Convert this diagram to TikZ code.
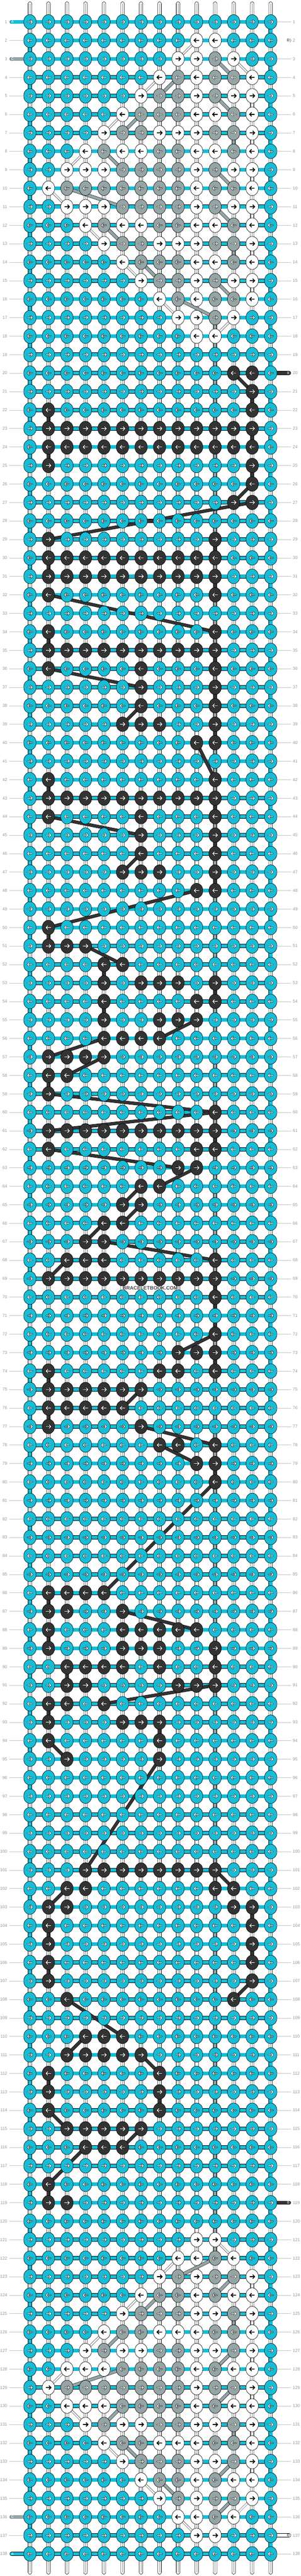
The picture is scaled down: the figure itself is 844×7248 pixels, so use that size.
\documentclass[tikz,border=0pt]{standalone}
\usepackage{fontspec}
\setmainfont{Liberation Sans}

\definecolor{knotA}{RGB}{23,189,214}
\definecolor{knotB}{RGB}{51,51,51}
\definecolor{knotC}{RGB}{149,165,166}
\definecolor{knotD}{RGB}{255,255,255}
\definecolor{numgray}{RGB}{150,150,150}
\definecolor{linegray}{RGB}{195,195,195}

\tikzset{
  knot/.style={draw, line width=0.9pt},
  warp/.style={draw, line width=0.8pt, fill=white, rounded corners=5pt},
  warpline/.style={draw=numgray, line width=0.7pt},
  weft/.style={draw, line width=0.8pt, double=knotA, double distance=9.4pt},
  strB/.style={draw, line width=0.8pt, double=knotB, double distance=7.6pt},
  strC/.style={draw, line width=0.8pt, double=knotC, double distance=7.6pt},
  strD/.style={draw, line width=0.7pt, double=knotD, double distance=4.4pt},
  strDv/.style={draw, line width=0.8pt, double=knotD, double distance=8.4pt},
  tabA/.style={weft, line cap=round},
  tabB/.style={weft, double=knotB, line cap=round},
  tabC/.style={weft, double=knotC, line cap=round},
  tabD/.style={weft, double=knotD, line cap=round},
  rownum/.style={font=\fontsize{12}{12}\selectfont, text=numgray, inner sep=0pt},
  tabtext/.style={font=\fontsize{10}{10}\selectfont, inner sep=0pt},
  numline/.style={draw=linegray, line width=0.8pt},
  arrrim/.style={line width=3.4pt, line cap=round, line join=round},
  arrcore/.style={white, line width=1.7pt, line cap=round, line join=round},
  arrdark/.style={line width=2.4pt}
}

%knot colours, A everywhere else
\newcommand\setknots[3]{\foreach \c in {#3}{\expandafter\xdef\csname kc@#1@\c\endcsname{#2}}}
\newcommand\mrow[4]{%
  \setknots{\the\numexpr#1+#2\relax}{D}{#3}%
  \if\relax\detokenize{#4}\relax\else\setknots{\the\numexpr#1+#2\relax}{C}{#4}\fi}
\newcommand\motif[1]{%
  \mrow{#1}{2}{10,11}{}%
  \mrow{#1}{3}{9,10,12}{11}%
  \mrow{#1}{4}{8,10,13}{9,11,12}%
  \mrow{#1}{5}{7,10,12,13}{8,9,11}%
  \mrow{#1}{6}{6,10,11,13}{7,8,9,12}%
  \mrow{#1}{7}{5,8,9,10,13}{6,7,11,12}%
  \mrow{#1}{8}{4,6,7,10,11,13}{5,8,9,12}%
  \mrow{#1}{9}{3,4,5,10,12,13}{6,7,8,9,11}%
  \mrow{#1}{10}{2,10,13}{3,4,5,6,7,8,9,11,12}%
  \mrow{#1}{11}{3,4,5,10,12,13}{6,7,8,9,11}%
  \mrow{#1}{12}{4,6,7,10,11,13}{5,8,9,12}%
  \mrow{#1}{13}{5,8,9,10,13}{6,7,11,12}%
  \mrow{#1}{14}{6,10,11,13}{7,8,9,12}%
  \mrow{#1}{15}{7,10,12,13}{8,9,11}%
  \mrow{#1}{16}{8,10,13}{9,11,12}%
  \mrow{#1}{17}{9,10,12}{11}%
  \mrow{#1}{18}{10,11}{}}
\motif{0}\motif{119}

\setknots{20}{B}{12,13}\setknots{21}{B}{13}\setknots{22}{B}{2,13}
\setknots{23}{B}{2,...,13}\setknots{24}{B}{2,...,13}\setknots{25}{B}{2,13}
\setknots{26}{B}{13}\setknots{27}{B}{12,13}
\setknots{29}{B}{2,11}\setknots{30}{B}{2,...,11}\setknots{31}{B}{2,...,11}
\setknots{32}{B}{2,11}\setknots{34}{B}{2,11}\setknots{35}{B}{2,...,11}
\setknots{36}{B}{2,7,11}\setknots{37}{B}{7,11}\setknots{38}{B}{7,11}
\setknots{39}{B}{6,7,8,11}\setknots{40}{B}{10,11}
\setknots{42}{B}{2,11}\setknots{43}{B}{2,...,11}\setknots{44}{B}{2,7,11}
\setknots{45}{B}{7,11}\setknots{46}{B}{7,11}\setknots{47}{B}{6,7,8,11}
\setknots{48}{B}{10,11}
\setknots{50}{B}{2}\setknots{51}{B}{2,3,4}\setknots{52}{B}{5,6}
\setknots{53}{B}{5,7,8,9,11}\setknots{54}{B}{5,10,11}\setknots{55}{B}{5,8,9,10}
\setknots{56}{B}{5,6,7,8}\setknots{57}{B}{2,3,4,5}\setknots{58}{B}{2,3}
\setknots{59}{B}{2}\setknots{60}{B}{11}\setknots{61}{B}{2,...,11}
\setknots{62}{B}{2,10,11}\setknots{63}{B}{9,10}\setknots{64}{B}{7,8}
\setknots{65}{B}{6,7}\setknots{66}{B}{5,6}\setknots{67}{B}{4,5}
\setknots{68}{B}{3,4,5,11}\setknots{69}{B}{2,...,11}\setknots{70}{B}{11}
\setknots{72}{B}{11}\setknots{73}{B}{9,10,11}\setknots{74}{B}{2,8,9,11}
\setknots{75}{B}{2,...,7}\setknots{76}{B}{2,...,6}\setknots{77}{B}{2,7}
\setknots{78}{B}{8,9,11}\setknots{79}{B}{10,11}\setknots{80}{B}{11}
\setknots{86}{B}{2,3,4,5}\setknots{87}{B}{2,3,6}\setknots{88}{B}{2,6,7,8,9,10}
\setknots{89}{B}{2,6,7,8,11}\setknots{90}{B}{3,4,5,6,8,11}\setknots{91}{B}{3,4,9,10,11}
\setknots{92}{B}{2,3,5}\setknots{93}{B}{2,6,7,8}\setknots{94}{B}{2,8}
\setknots{95}{B}{3,8}
\setknots{101}{B}{4,...,11}\setknots{102}{B}{3,4,11,12}\setknots{103}{B}{2,3,12,13}
\setknots{104}{B}{2,13}\setknots{105}{B}{2,13}\setknots{106}{B}{2,13}
\setknots{107}{B}{2,13}\setknots{108}{B}{3,12}
\setknots{110}{B}{4,5,6}\setknots{111}{B}{3,...,7}\setknots{112}{B}{2,8}
\setknots{113}{B}{2,8}\setknots{114}{B}{2,8}\setknots{115}{B}{3,...,7}
\setknots{116}{B}{4,5,6}\setknots{118}{B}{2}\setknots{119}{B}{2,3}

%append to a comma list
\newcommand\addto[2]{\expandafter\ifx\csname#1\endcsname\empty
  \expandafter\xdef\csname#1\endcsname{#2}\else
  \expandafter\xdef\csname#1\endcsname{\csname#1\endcsname,#2}\fi}

%rows with a tab instead of a number line
\expandafter\def\csname tabL@1\endcsname{}\expandafter\def\csname tabL@3\endcsname{}
\expandafter\def\csname tabL@136\endcsname{}\expandafter\def\csname tabL@138\endcsname{}
\expandafter\def\csname tabR@2\endcsname{}\expandafter\def\csname tabR@20\endcsname{}
\expandafter\def\csname tabR@119\endcsname{}\expandafter\def\csname tabR@137\endcsname{}

\begin{document}
\begin{tikzpicture}[x=1pt,y=-1pt]
\useasboundingbox(0,0)rectangle(844,7248);

%knot positions
\foreach \r in {1,...,138}{
  \foreach \c in {1,...,14}{\coordinate(k\r-\c)at(32+52*\c,9.7+52*\r);}
}

%warp pairs
\foreach \c in {1,...,14}{
  \draw[warp](27+52*\c,5)rectangle(37+52*\c,7243);
  \draw[warpline](32+52*\c,10)--(32+52*\c,7238);
}

%working string A
\foreach \r in {1,...,138}{\draw[weft](k\r-1)--(k\r-14);}
\foreach \r in {1,...,137}{
  \pgfmathtruncatemacro\rn{\r+1}
  \ifodd\r\draw[weft](k\r-14)--(k\rn-14);\else\draw[weft](k\r-1)--(k\rn-1);\fi
}

%tabs
\coordinate(endA1)at([xshift=-51.5pt]k1-1);
\coordinate(endA138)at([xshift=-51.5pt]k138-1);
\coordinate(endC3)at([xshift=-51.5pt]k3-1);
\coordinate(endC136)at([xshift=-51.5pt]k136-1);
\coordinate(endD2)at([xshift=51.5pt]k2-14);
\coordinate(endD137)at([xshift=51.5pt]k137-14);
\coordinate(endB20)at([xshift=51.5pt]k20-14);
\coordinate(endB119)at([xshift=51.5pt]k119-14);
\draw[tabA](endA1)--(k1-1);
\draw[tabA](endA138)--(k138-1);
\draw[tabC](endC3)--(k3-1);
\draw[tabC](endC136)--(k136-1);
\draw[tabD](endD2)--(k2-14);
\draw[tabD](endD137)--(k137-14);
\draw[tabB](endB20)--(k20-14);
\draw[tabB](endB119)--(k119-14);

%carried strings C
\foreach \a/\b/\p/\q in {3/11/4/12,4/9/5/8,5/11/6/12,6/7/7/6,7/12/8/12,8/5/9/6,
  9/11/10/12,10/3/11/6,11/11/12/12,12/5/13/6,13/12/14/12,14/7/15/8,15/11/16/12,
  16/9/17/11,17/11/122/11,122/11/123/9,123/12/124/11,124/8/125/7,125/12/126/12,
  126/6/127/5,127/12/128/11,128/6/129/3,129/12/130/11,130/6/131/5,131/12/132/12,
  132/6/133/7,133/12/134/11,134/8/135/9,135/12/136/11}
  {\draw[strC](k\a-\b)--(k\p-\q);}
%carried strings D
\foreach \a/\b/\p/\q in {2/10/3/9,3/12/4/13,4/8/5/7,6/6/7/5,8/4/9/3,10/2/11/3,
  12/4/13/5,14/6/15/7,16/8/17/9,17/12/18/11,121/11/122/12,122/9/123/8,124/7/125/6,
  126/5/127/4,128/3/129/2,130/3/131/4,132/5/133/6,134/7/135/8,135/13/136/12,
  136/9/137/10}
  {\draw[strD](k\a-\b)--(k\p-\q);}
\foreach \a/\b/\p/\q in {5/13/6/13,7/13/8/13,9/13/10/13,11/13/12/13,13/13/14/13,
  15/13/16/13,18/10/121/10,123/13/124/13,125/13/126/13,127/13/128/13,
  129/13/130/13,131/13/132/13,133/13/134/13}
  {\draw[strDv](k\a-\b)--(k\p-\q);}
%carried strings B
\foreach \a/\b/\p/\q in {20/12/21/13,21/13/22/13,22/2/23/2,23/13/24/13,24/2/25/2,
  25/13/26/13,26/13/27/12,27/13/29/2,29/11/30/11,30/2/31/2,31/11/32/11,32/2/34/11,
  34/2/35/2,35/11/36/11,36/2/37/7,37/11/38/11,38/7/39/6,39/11/40/11,40/10/42/11,
  42/2/43/2,43/11/44/11,44/2/45/7,45/11/46/11,46/7/47/6,47/11/48/11,48/10/50/2,
  50/2/51/2,51/4/52/6,52/5/53/5,53/11/54/11,54/5/55/5,55/10/56/8,56/5/57/2,
  57/5/58/3,58/2/59/2,59/2/60/11,60/11/61/2,61/11/62/11,62/2/63/9,63/10/64/8,
  64/7/65/6,65/7/66/6,66/5/67/4,67/5/68/11,68/3/69/2,69/11/70/11,70/11/72/11,
  72/11/73/9,73/11/74/11,74/2/75/2,75/7/76/6,76/2/77/2,77/7/78/11,78/8/79/10,
  79/11/80/11,80/11/86/5,86/2/87/2,87/6/88/10,88/2/89/2,89/11/90/11,90/3/91/3,
  91/11/92/5,92/2/93/2,93/8/94/8,94/2/95/3,95/8/101/4,101/11/102/12,102/3/103/2,
  103/13/104/13,104/2/105/2,105/13/106/13,106/2/107/2,107/13/108/12,108/3/110/6,
  110/4/111/3,111/7/112/8,112/2/113/2,113/8/114/8,114/2/115/3,115/7/116/6,
  116/4/118/2,118/2/119/2}
  {\draw[strB](k\a-\b)--(k\p-\q);}

%knots and arrows, one path per colour and row
\foreach \r in {1,...,138}{
  \ifodd\r\def\dd{1}\else\def\dd{-1}\fi
  \gdef\listA{}\gdef\listB{}\gdef\listC{}\gdef\listD{}\gdef\listW{}
  \foreach \c in {1,...,14}{
    \ifcsname kc@\r@\c\endcsname\edef\kc{\csname kc@\r@\c\endcsname}\else\def\kc{A}\fi
    \addto{list\kc}{\c}%
    \if D\kc\else\addto{listW}{\c}\fi
  }
  \foreach \col in {A,B,C,D}{
    \expandafter\let\expandafter\curlist\csname list\col\endcsname
    \ifx\curlist\empty\else
      \filldraw[knot,fill=knot\col]\foreach \c in \curlist
        {(k\r-\c)ellipse[x radius=17.5pt,y radius=20.8pt]};
    \fi
  }
  \draw[arrrim]\foreach \c in \listW
    {(k\r-\c)++(-6.8*\dd,0)--++(13.6*\dd,0)++(-5.2*\dd,-5.2)--++(5.2*\dd,5.2)--++(-5.2*\dd,5.2)};
  \draw[arrcore]\foreach \c in \listW
    {(k\r-\c)++(-6.8*\dd,0)--++(13.6*\dd,0)++(-5.2*\dd,-5.2)--++(5.2*\dd,5.2)--++(-5.2*\dd,5.2)};
  \ifx\listD\empty\else
    \draw[arrdark]\foreach \c in \listD
      {(k\r-\c)++(-7*\dd,0)--++(14*\dd,0)++(-5.5*\dd,-5.5)--++(5.5*\dd,5.5)--++(-5.5*\dd,5.5)};
  \fi
}

%tab letters
\node[tabtext,text=white](tabA1)at([xshift=-49pt]k1-1){A};
\node[tabtext,text=white](tabA138)at([xshift=-49pt]k138-1){A};
\node[tabtext,text=white](tabC3)at([xshift=-49pt]k3-1){C};
\node[tabtext,text=white](tabC136)at([xshift=-49pt]k136-1){C};
\node[tabtext](tabD2)at([xshift=49.5pt]k2-14){D};
\node[tabtext](tabD137)at([xshift=49.5pt]k137-14){D};
\node[tabtext,text=white](tabB20)at([xshift=49.5pt]k20-14){B};
\node[tabtext,text=white](tabB119)at([xshift=49.5pt]k119-14){B};

%row numbers
\foreach \r in {1,...,138}{
  \node[rownum,anchor=east](ll\r)at([xshift=-63.5pt]k\r-1){\r};
  \node[rownum,anchor=west](rl\r)at([xshift=62pt]k\r-14){\r};
  \ifcsname tabL@\r\endcsname\else\draw[numline]([xshift=5.5pt]ll\r.east)--([xshift=-17.5pt]k\r-1);\fi
  \ifcsname tabR@\r\endcsname\else\draw[numline]([xshift=17.5pt]k\r-14)--([xshift=-5pt]rl\r.west);\fi
}

\node[font=\bfseries\fontsize{14}{14}\selectfont, text=knotB!90, fill=white, fill opacity=0.6,
  text opacity=1, inner sep=1pt](mark)at(422,3624){BRACELETBOOK.COM};
\end{tikzpicture}
\end{document}
